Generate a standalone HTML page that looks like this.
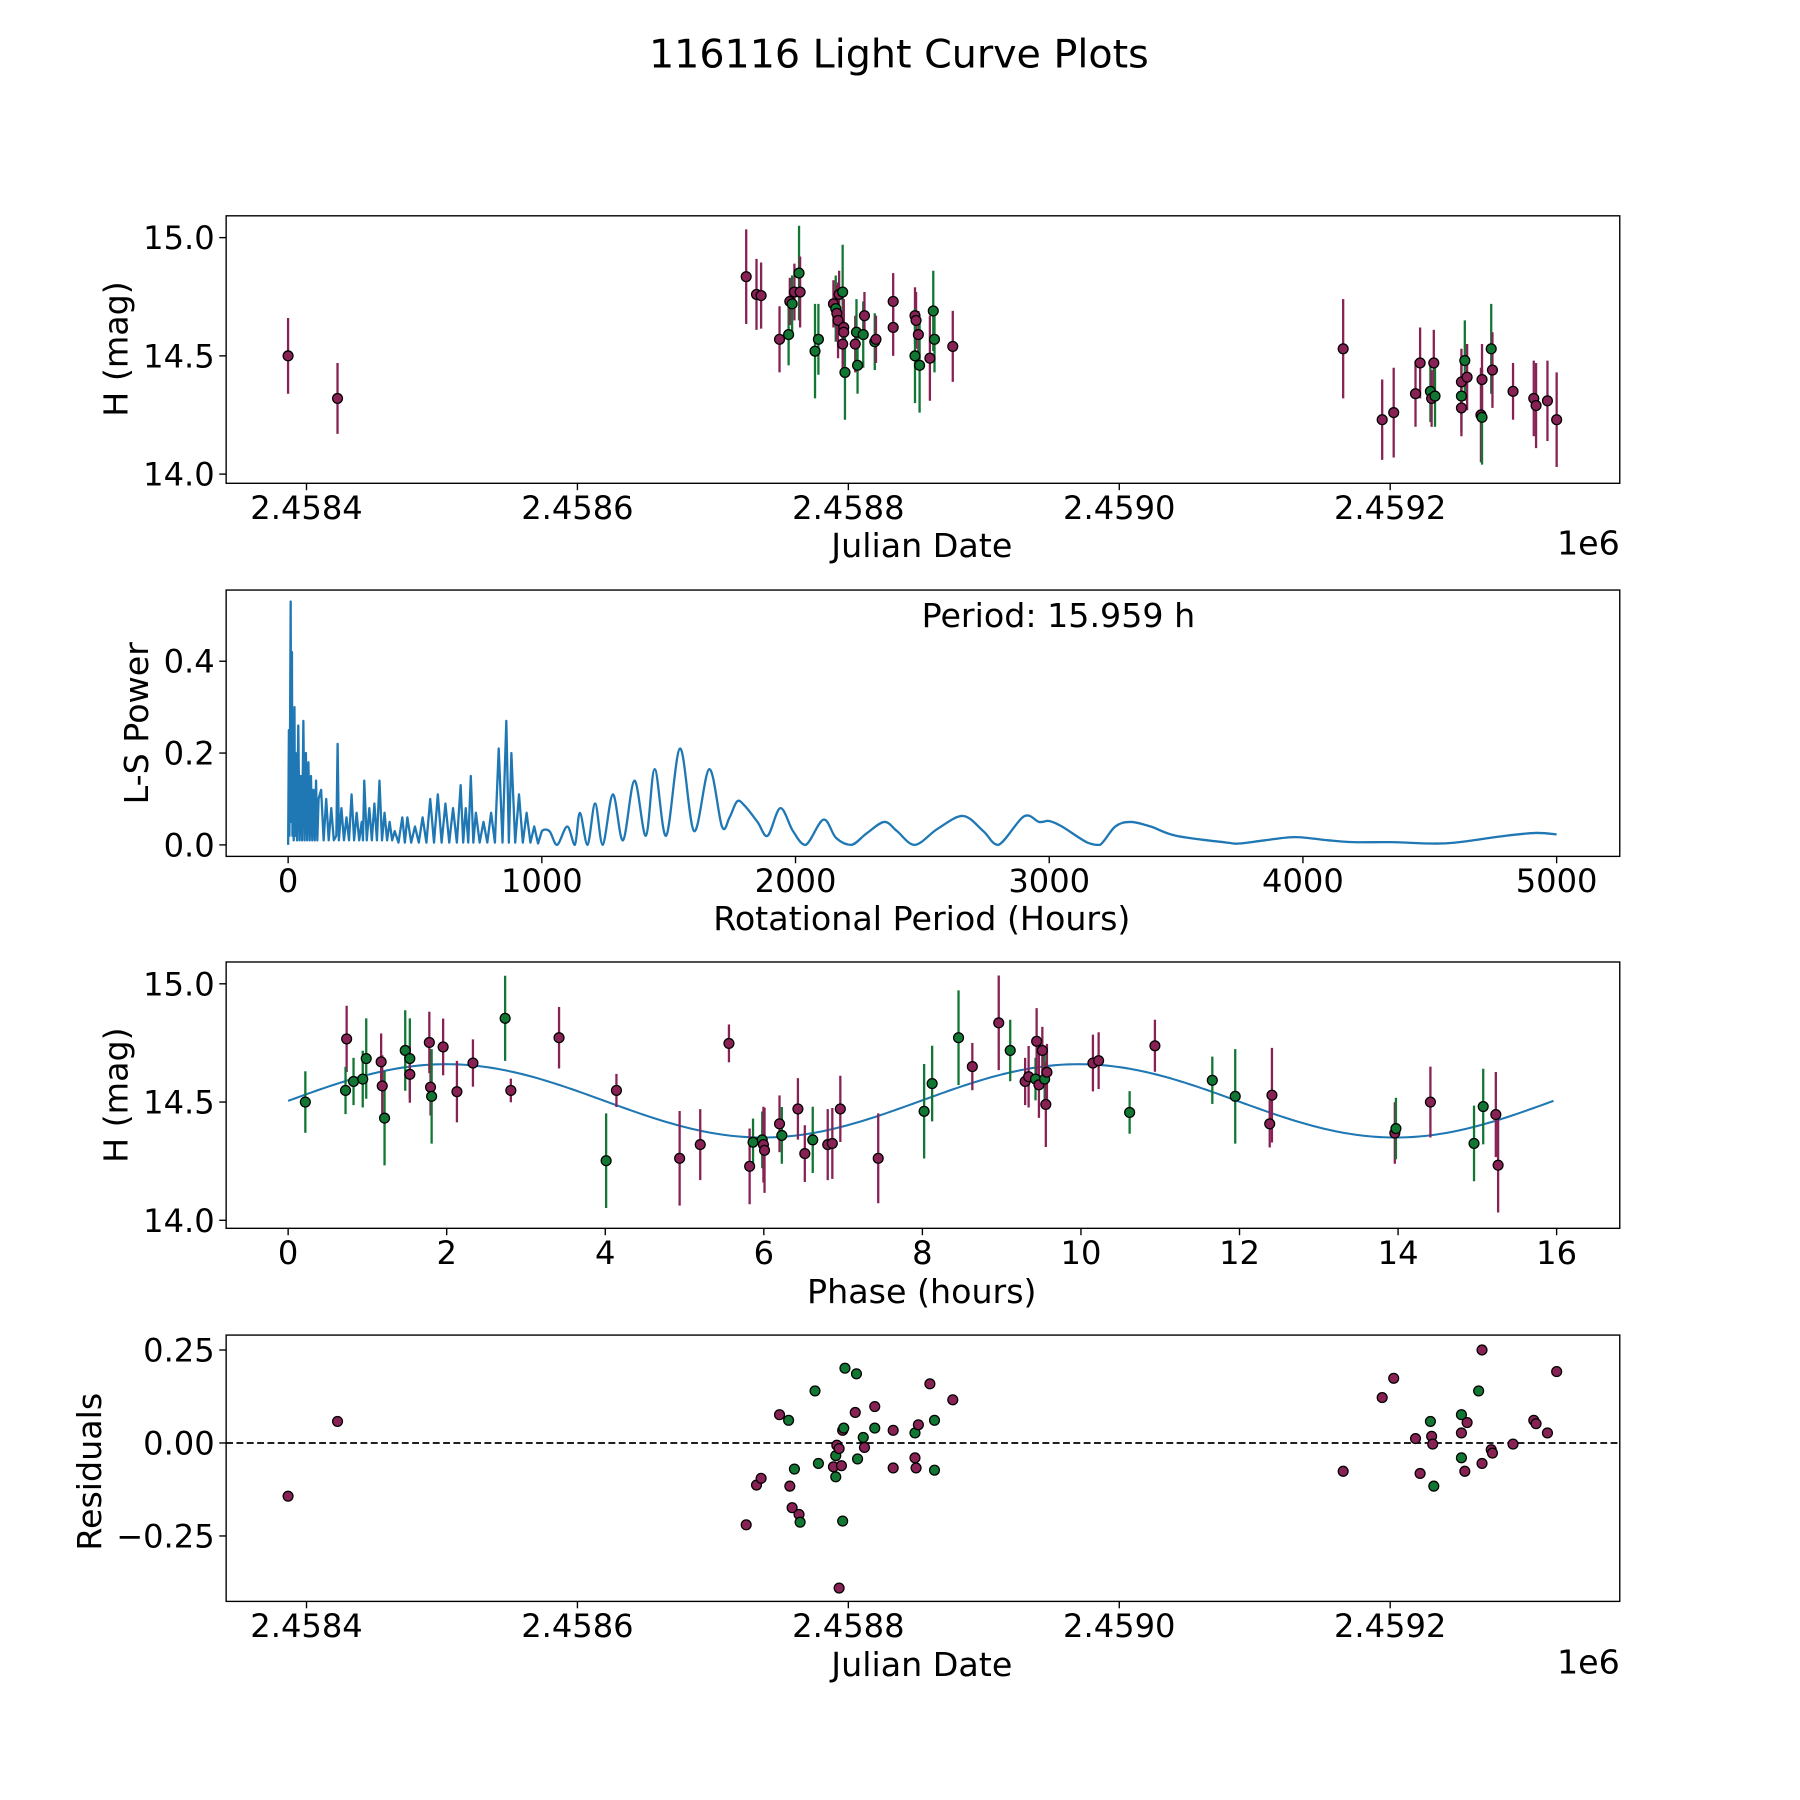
<!DOCTYPE html>
<html><head><meta charset="utf-8"><style>
html,body{margin:0;padding:0;background:#fff;}
svg{display:block;font-family:"DejaVu Sans","Liberation Sans",sans-serif;}
</style></head><body>
<svg id="fig" width="1800" height="1800" viewBox="0 0 1568 1568" xmlns="http://www.w3.org/2000/svg">
<rect width="1568" height="1568" fill="#fff"/>
<text x="783" y="59" font-size="34.5" text-anchor="middle">116116 Light Curve Plots</text>
<g id="p1"></g>
<g id="p2"></g>
<g id="p3"></g>
<g id="p4"></g>
</svg>
<script>
// ---- data ----
const jd = [386.4,422.9,724.6,732.2,735.6,749.2,755.9,756.8,758.5,760.2,763.6,764.4,775.4,777.9,789.0,790.7,791.5,792.4,793.2,795.8,796.6,796.6,795.8,797.5,805.1,806.0,806.8,811.0,811.9,819.5,820.4,833.1,833.1,849.2,850.0,849.2,851.7,852.6,860.2,862.7,863.6,877.1,1165.3,1194.1,1202.6,1218.7,1222.1,1229.7,1230.6,1232.2,1233.1,1252.6,1252.6,1252.6,1255.1,1256.8,1267.0,1267.8,1267.8,1274.6,1275.5,1290.7,1306.0,1307.7,1316.1,1322.9];
const mag = [14.50,14.32,14.835,14.76,14.755,14.57,14.59,14.73,14.72,14.77,14.85,14.77,14.52,14.57,14.72,14.70,14.68,14.65,14.76,14.77,14.62,14.60,14.55,14.43,14.55,14.60,14.46,14.59,14.67,14.56,14.57,14.73,14.62,14.67,14.65,14.50,14.59,14.46,14.49,14.69,14.57,14.54,14.53,14.23,14.26,14.34,14.47,14.35,14.32,14.47,14.33,14.33,14.39,14.28,14.48,14.41,14.25,14.24,14.40,14.53,14.44,14.35,14.32,14.29,14.31,14.23];
const magErr = [0.16,0.15,0.2,0.15,0.14,0.14,0.13,0.1,0.12,0.12,0.2,0.15,0.2,0.15,0.1,0.14,0.12,0.16,0.1,0.2,0.12,0.14,0.12,0.2,0.12,0.14,0.12,0.14,0.1,0.12,0.1,0.12,0.12,0.12,0.12,0.2,0.1,0.2,0.18,0.17,0.14,0.15,0.21,0.17,0.19,0.14,0.15,0.13,0.12,0.14,0.13,0.15,0.14,0.12,0.17,0.14,0.2,0.2,0.15,0.19,0.16,0.12,0.16,0.18,0.17,0.2];
const band = "PPPPPPGPGPGPGGPGPPPGPPPGPGGGPGPPPPPGPGPGGPPPPPPGPPGGPPGPPGPGPPPPPP";
const resJd = [386.4,422.9,724.6,732.2,735.6,749.2,755.9,756.8,758.5,760.2,763.6,764.4,775.4,777.9,789.0,790.7,790.7,791.5,793.2,794.9,795.8,796.6,795.8,797.5,793.2,805.1,806.0,806.8,811.0,811.9,819.5,819.5,833.1,833.1,849.2,849.2,850.0,851.7,860.2,863.6,863.6,877.1,1165.3,1194.1,1202.6,1218.7,1222.1,1229.7,1230.6,1232.2,1231.4,1252.6,1252.6,1252.6,1255.1,1256.8,1265.3,1267.8,1267.8,1274.6,1275.5,1290.7,1306.0,1307.7,1316.1,1322.9];
const resVal = [-0.143,0.058,-0.22,-0.113,-0.095,0.076,0.061,-0.116,-0.174,-0.070,-0.192,-0.213,0.140,-0.055,-0.064,-0.034,-0.091,-0.006,-0.015,-0.061,0.034,0.040,-0.210,0.201,-0.390,0.082,0.186,-0.043,0.015,-0.012,0.098,0.040,0.034,-0.067,0.027,-0.040,-0.067,0.049,0.159,0.061,-0.073,0.116,-0.076,0.122,0.174,0.012,-0.082,0.058,0.018,-0.116,-0.003,0.076,0.027,-0.040,-0.076,0.055,0.140,0.250,-0.055,-0.018,-0.027,-0.003,0.061,0.052,0.027,0.192];
const resBand = "PPPPPPGPPGPGGGPGGPPPPGGGPPGGGPPGPPGPPPPGGPPPPPPGPGPGPGPPGPPPPPPPP";
const phase = [0.217,0.738,0.724,0.825,0.941,0.985,1.173,1.187,1.216,1.477,1.535,1.535,1.781,1.796,1.810,1.955,2.129,2.331,2.737,2.809,3.417,4.011,4.141,4.938,5.198,5.560,5.821,5.864,5.980,5.995,6.009,6.198,6.227,6.430,6.517,6.617,6.806,6.864,6.965,7.443,8.022,8.123,8.456,8.630,8.963,9.108,9.296,9.340,9.427,9.441,9.470,9.513,9.542,9.557,9.571,10.151,10.223,10.614,10.933,11.657,11.946,12.381,12.409,13.959,13.973,14.408,14.958,15.074,15.233,15.262];
const phaseMag = [14.500,14.767,14.549,14.587,14.597,14.684,14.670,14.568,14.432,14.718,14.684,14.617,14.752,14.563,14.524,14.733,14.544,14.665,14.854,14.549,14.772,14.252,14.549,14.262,14.320,14.748,14.228,14.330,14.340,14.320,14.296,14.408,14.359,14.471,14.282,14.340,14.320,14.325,14.471,14.262,14.461,14.578,14.772,14.650,14.835,14.718,14.587,14.607,14.597,14.757,14.573,14.718,14.597,14.490,14.626,14.665,14.675,14.456,14.738,14.592,14.524,14.408,14.529,14.369,14.388,14.500,14.325,14.481,14.447,14.233];
const phaseErr = [0.13,0.14,0.1,0.1,0.12,0.17,0.12,0.13,0.2,0.17,0.17,0.12,0.13,0.12,0.2,0.12,0.13,0.1,0.18,0.05,0.13,0.2,0.07,0.2,0.15,0.08,0.16,0.1,0.12,0.16,0.18,0.12,0.12,0.13,0.12,0.14,0.15,0.15,0.14,0.19,0.2,0.16,0.2,0.1,0.2,0.13,0.1,0.13,0.09,0.14,0.14,0.1,0.12,0.18,0.12,0.12,0.12,0.09,0.11,0.1,0.2,0.1,0.2,0.13,0.13,0.15,0.16,0.16,0.18,0.2];
const phaseBand = "GPGGGGPPGGGPPPGPPPGPPGPPPPPGGPPPGPPGPPPPGGGPPGPPGPPPGPPPPGPGGPPPGPGGPP";
const fitParams = [14.505, 0.155, 7.98]; // mean, amplitude, half-period (h)
const lsPeriod = [0,3,5,7,10,12,15,17,20,22,25,27,30,35,40,45,50,55,60,65,70,75,80,85,90,95,100,105,110,115,120,130,140,150,160,170,180,190,195,200,210,220,230,240,250,260,270,280,290,295,300,310,320,330,340,350,360,370,380,390,400,410,420,435,450,460,470,485,500,515,530,545,560,575,590,605,620,635,650,665,680,690,700,710,720,730,740,755,770,785,800,815,830,845,860,870,880,895,910,925,940,955,970,985,1000,1030,1060,1100,1130,1150,1180,1210,1240,1280,1320,1365,1410,1445,1490,1545,1600,1660,1710,1740,1770,1800,1850,1890,1940,1990,2040,2110,2160,2220,2280,2350,2400,2470,2560,2660,2740,2800,2900,2960,3000,3050,3150,3200,3260,3320,3400,3500,3700,3750,3850,3970,4100,4200,4350,4500,4600,4800,4920,5000];
const lsPower = [0,0.25,0.02,0.2,0.53,0.05,0.42,0.02,0.1,0.01,0.3,0.02,0.2,0.01,0.26,0.01,0.15,0.01,0.27,0.01,0.2,0.01,0.18,0.01,0.15,0.01,0.12,0.01,0.14,0.01,0.1,0.12,0.01,0.1,0.01,0.08,0.01,0.02,0.22,0.01,0.08,0.01,0.06,0.01,0.11,0.01,0.07,0.01,0.05,0.01,0.14,0.01,0.08,0.01,0.09,0.01,0.14,0.01,0.07,0.01,0.05,0.01,0.03,0.005,0.06,0.005,0.06,0.005,0.04,0.005,0.06,0.005,0.10,0.005,0.11,0.005,0.09,0.005,0.08,0.005,0.13,0.005,0.08,0.005,0.15,0.005,0.07,0.005,0.05,0.005,0.07,0.005,0.21,0.005,0.27,0.005,0.20,0.005,0.11,0.005,0.07,0.005,0.04,0.003,0.03,0.03,0.0,0.04,0.0,0.07,0.0,0.09,0.0,0.11,0.01,0.14,0.02,0.165,0.02,0.21,0.03,0.165,0.04,0.06,0.095,0.085,0.05,0.02,0.08,0.03,0.0,0.055,0.015,0.0,0.025,0.05,0.03,0.0,0.035,0.063,0.03,0.0,0.062,0.05,0.052,0.04,0.005,0.0,0.04,0.05,0.04,0.02,0.005,0.003,0.01,0.017,0.01,0.006,0.006,0.003,0.005,0.02,0.026,0.023];
const jdTicks = [400,600,800,1000,1200];
const jdTickLabels = ["2.4584","2.4586","2.4588","2.4590","2.4592"];
const magTicks = [14.0,14.5,15.0];
const magTickLabels = ["14.0","14.5","15.0"];
const lsXTicks = [0,1000,2000,3000,4000,5000];
const lsYTicks = [0,0.2,0.4];
const lsYTickLabels = ["0.0","0.2","0.4"];
const phaseTicks = [0,2,4,6,8,10,12,14,16];
const resTicks = [-0.25,0,0.25];
const resTickLabels = ["\u22120.25","0.00","0.25"];

const NS="http://www.w3.org/2000/svg";
const PUR="#882255", GRN="#117733";
const TF=28, LF=29;
function mk(parent,tag,attrs){const e=document.createElementNS(NS,tag);for(const k in attrs)e.setAttribute(k,attrs[k]);parent.appendChild(e);return e;}
const L=197,R=1411;
function lin(d0,d1,r0,r1){return v=>r0+(v-d0)*(r1-r0)/(d1-d0);}
const xJD=lin(400,1200,267,1211);
function frame(g,top,bot){const r=mk(g,'rect',{x:L,y:top,width:R-L,height:bot-top,fill:'none',stroke:'#000','stroke-width':1.2});

}
function xticks(g,bot,vals,labels,sx,name){vals.forEach((v,i)=>{const x=sx(v);
const t=mk(g,'line',{x1:x,x2:x,y1:bot,y2:bot+6,stroke:'#000','stroke-width':1.2});


const tx=mk(g,'text',{x:x,y:bot+31,'font-size':TF,'text-anchor':'middle'});tx.textContent=labels[i];

});}
function yticks(g,vals,labels,sy,name){vals.forEach((v,i)=>{const y=sy(v);
const t=mk(g,'line',{x1:L-6,x2:L,y1:y,y2:y,stroke:'#000','stroke-width':1.2});


const tx=mk(g,'text',{x:L-10,y:y+10,'font-size':TF,'text-anchor':'end'});tx.textContent=labels[i];

});}
function label(g,txt,x,y,rot,name){const t=mk(g,'text',{x:x,y:y,'font-size':LF,'text-anchor':'middle'});if(rot)t.setAttribute('transform',`rotate(-90 ${x} ${y})`);t.textContent=txt;

}
function dot(g,x,y,c,name){const d=mk(g,'circle',{cx:x,cy:y,r:4.3,fill:c,stroke:'#000','stroke-width':1.1});

}
function ebar(g,x,y1,y2,c){const e=mk(g,'line',{x1:x,x2:x,y1:y1,y2:y2,stroke:c,'stroke-width':2});

}

// Panel 1
(function(){const g=document.getElementById('p1');const top=188,bot=421;const sy=lin(14,15,413,207);
frame(g,top,bot);
jd.forEach((v,i)=>{const c=band[i]==='G'?GRN:PUR;ebar(g,xJD(v),sy(mag[i]-magErr[i]),sy(mag[i]+magErr[i]),c);});
jd.forEach((v,i)=>{dot(g,xJD(v),sy(mag[i]),band[i]==='G'?GRN:PUR,'observation-point');});
xticks(g,bot,jdTicks,jdTickLabels,xJD,'x-axis');yticks(g,magTicks,magTickLabels,sy,'y-axis');
label(g,'Julian Date',803,485,false,'x-axis-title');label(g,'H (mag)',111,304,true,'y-axis-title');
const o=mk(g,'text',{x:R,y:483,'font-size':LF,'text-anchor':'end'});o.textContent='1e6';

})();

// Panel 2
(function(){const g=document.getElementById('p2');const top=514,bot=746;const sx=lin(0,5000,251,1356),sy=lin(0,0.4,736,576);
frame(g,top,bot);
const P=lsPeriod.map((p,i)=>[sx(p),sy(lsPower[i])]);
let d='M'+P[0][0].toFixed(2)+' '+P[0][1].toFixed(2);
for(let i=1;i<P.length;i++){
  if(lsPeriod[i]<=1000){d+='L'+P[i][0].toFixed(2)+' '+P[i][1].toFixed(2);continue;}
  const p0=P[Math.max(0,i-2)],p1=P[i-1],p2=P[i],p3=P[Math.min(P.length-1,i+1)];
  const c1x=p1[0]+(p2[0]-p0[0])/6,c1y=p1[1]+(p2[1]-p0[1])/6,c2x=p2[0]-(p3[0]-p1[0])/6,c2y=p2[1]-(p3[1]-p1[1])/6;
  d+='C'+[c1x,Math.min(c1y,736),c2x,Math.min(c2y,736),p2[0],p2[1]].map(v=>v.toFixed(2)).join(' ');
}
const pth=mk(g,'path',{d:d,fill:'none',stroke:'#1f77b4','stroke-width':2,'stroke-linejoin':'round'});


xticks(g,bot,lsXTicks,lsXTicks.map(String),sx,'x-axis');yticks(g,lsYTicks,lsYTickLabels,sy,'y-axis');
label(g,'Rotational Period (Hours)',803,810,false,'x-axis-title');label(g,'L-S Power',129,630,true,'y-axis-title');
const t=mk(g,'text',{x:922,y:546,'font-size':LF,'text-anchor':'middle'});t.textContent='Period: 15.959 h';

})();

// Panel 3
(function(){const g=document.getElementById('p3');const top=838,bot=1070;const sx=lin(0,16,251,1356),sy=lin(14,15,1063,857);
frame(g,top,bot);
let d='';for(let i=0;i<=320;i++){const p=16*i/320*0.9975;const m=fitParams[0]+fitParams[1]*Math.sin(2*Math.PI*p/fitParams[2]);d+=(i?'L':'M')+sx(p).toFixed(2)+' '+sy(m).toFixed(2);}
const fc=mk(g,'path',{d:d,fill:'none',stroke:'#1f77b4','stroke-width':1.8});


phase.forEach((v,i)=>{const c=phaseBand[i]==='G'?GRN:PUR;ebar(g,sx(v),sy(phaseMag[i]-phaseErr[i]),sy(phaseMag[i]+phaseErr[i]),c);});
phase.forEach((v,i)=>{dot(g,sx(v),sy(phaseMag[i]),phaseBand[i]==='G'?GRN:PUR,'phased-point');});
xticks(g,bot,phaseTicks,phaseTicks.map(String),sx,'x-axis');yticks(g,magTicks,magTickLabels,sy,'y-axis');
label(g,'Phase (hours)',803,1135,false,'x-axis-title');label(g,'H (mag)',111,954,true,'y-axis-title');})();

// Panel 4
(function(){const g=document.getElementById('p4');const top=1163,bot=1395;const sy=lin(0,0.25,1257,1176);
frame(g,top,bot);
const z=mk(g,'line',{x1:L,x2:R,y1:sy(0),y2:sy(0),stroke:'#000','stroke-width':1.5,'stroke-dasharray':'6 3'});


resJd.forEach((v,i)=>{dot(g,xJD(v),sy(resVal[i]),resBand[i]==='G'?GRN:PUR,'residual-point');});
xticks(g,bot,jdTicks,jdTickLabels,xJD,'x-axis');yticks(g,resTicks,resTickLabels,sy,'y-axis');
label(g,'Julian Date',803,1460,false,'x-axis-title');label(g,'Residuals',88,1282,true,'y-axis-title');
const o=mk(g,'text',{x:R,y:1458,'font-size':LF,'text-anchor':'end'});o.textContent='1e6';

})();
</script>
</body></html>
